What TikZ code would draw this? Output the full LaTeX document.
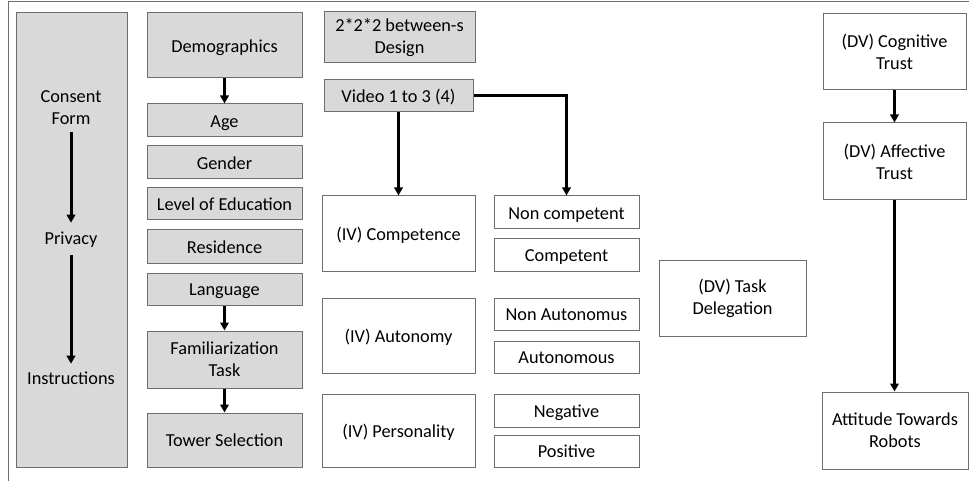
\documentclass[tikz,border=0pt]{standalone}
\usepackage{fontspec}
\setmainfont{Carlito}
\usetikzlibrary{arrows.meta}
\definecolor{boxfill}{RGB}{217,217,217}
\definecolor{boxline}{RGB}{110,110,110}
\begin{document}
\begin{tikzpicture}[x=1pt,y=-1pt,
  every node/.style={font=\fontsize{18.3}{22}\selectfont, align=center},
  gbox/.style={draw=boxline, line width=1pt, fill=boxfill, inner sep=0pt},
  wbox/.style={draw=boxline, line width=1pt, fill=white, inner sep=0pt},
  sl/.style={text height=15pt, text depth=1.2pt},
  lbl/.style={inner sep=0pt},
  arr/.style={line width=3pt, -{Triangle[length=8pt,width=8.5pt]}}]
\useasboundingbox (0,0) rectangle (969,481);
% frame
\draw[boxline, line width=1pt] (8,481) -- (8,2) -- (969,2);
% consent column
\node[gbox, minimum width=111pt, minimum height=454pt] (consent) at (71.5,240) {};
\node[lbl] (cf) at (71,108) {Consent\\Form};
\node[lbl, sl] (pr) at (71,238) {Privacy};
\node[lbl, sl] (ins) at (71,378) {Instructions};
\draw[arr, shorten <=7pt, shorten >=7pt] (cf) -- (pr);
\draw[arr, shorten <=9pt, shorten >=6pt] (pr) -- (ins);
% demographics column
\node[gbox, sl, minimum width=155pt, minimum height=65pt] (demo) at (224.5,45.5) {Demographics};
\node[gbox, sl, minimum width=155pt, minimum height=33pt] (age) at (224.5,120.5) {Age};
\node[gbox, sl, minimum width=155pt, minimum height=33pt] (gender) at (224.5,162.5) {Gender};
\node[gbox, sl, minimum width=155pt, minimum height=32pt] (edu) at (224.5,204) {Level of Education};
\node[gbox, sl, minimum width=155pt, minimum height=33pt] (res) at (224.5,246.5) {Residence};
\node[gbox, sl, minimum width=155pt, minimum height=32pt] (lang) at (224.5,289) {Language};
\node[gbox, minimum width=155pt, minimum height=57pt] (fam) at (224.5,359.5) {Familiarization\\Task};
\node[gbox, sl, minimum width=155pt, minimum height=54pt] (tower) at (224.5,440) {Tower Selection};
\draw[arr] (demo) -- (age);
\draw[arr] (lang) -- (fam);
\draw[arr] (fam) -- (tower);
% design column
\node[gbox, minimum width=151pt, minimum height=51pt] (design) at (399.5,37.5) {2*2*2 between-s\\Design};
\node[gbox, sl, minimum width=149pt, minimum height=32pt] (video) at (398.5,96) {Video 1 to 3 (4)};
\node[wbox, sl, minimum width=153pt, minimum height=75pt] (comp) at (398.5,233.5) {(IV) Competence};
\node[wbox, sl, minimum width=153pt, minimum height=75pt] (auton) at (398.5,335.5) {(IV) Autonomy};
\node[wbox, sl, minimum width=153pt, minimum height=73pt] (pers) at (398.5,430.5) {(IV) Personality};
\node[wbox, sl, minimum width=145pt, minimum height=33pt] (noncomp) at (566.5,212.5) {Non competent};
\node[wbox, sl, minimum width=145pt, minimum height=33pt] (competent) at (566.5,254.5) {Competent};
\node[wbox, sl, minimum width=145pt, minimum height=32pt] (nonauto) at (566.5,314) {Non Autonomus};
\node[wbox, sl, minimum width=145pt, minimum height=32pt] (autonomous) at (566.5,357) {Autonomous};
\node[wbox, sl, minimum width=145pt, minimum height=33pt] (neg) at (566.5,410.5) {Negative};
\node[wbox, sl, minimum width=145pt, minimum height=32pt] (pos) at (566.5,451) {Positive};
\draw[arr] (video) -- (comp);
\draw[arr] (video.east) -| (noncomp.north);
% DV
\node[wbox, minimum width=147pt, minimum height=76pt] (task) at (732.5,298) {(DV) Task\\Delegation};
\node[wbox, minimum width=143pt, minimum height=76pt] (cog) at (894.5,52) {(DV) Cognitive\\Trust};
\node[wbox, minimum width=143pt, minimum height=77pt] (aff) at (894.5,161.5) {(DV) Affective\\Trust};
\node[wbox, minimum width=146pt, minimum height=77pt] (att) at (895,430.5) {Attitude Towards\\Robots};
\draw[arr] (cog) -- (aff);
\draw[arr] (aff.south) -- (aff.south |- att.north);
\end{tikzpicture}
\end{document}
